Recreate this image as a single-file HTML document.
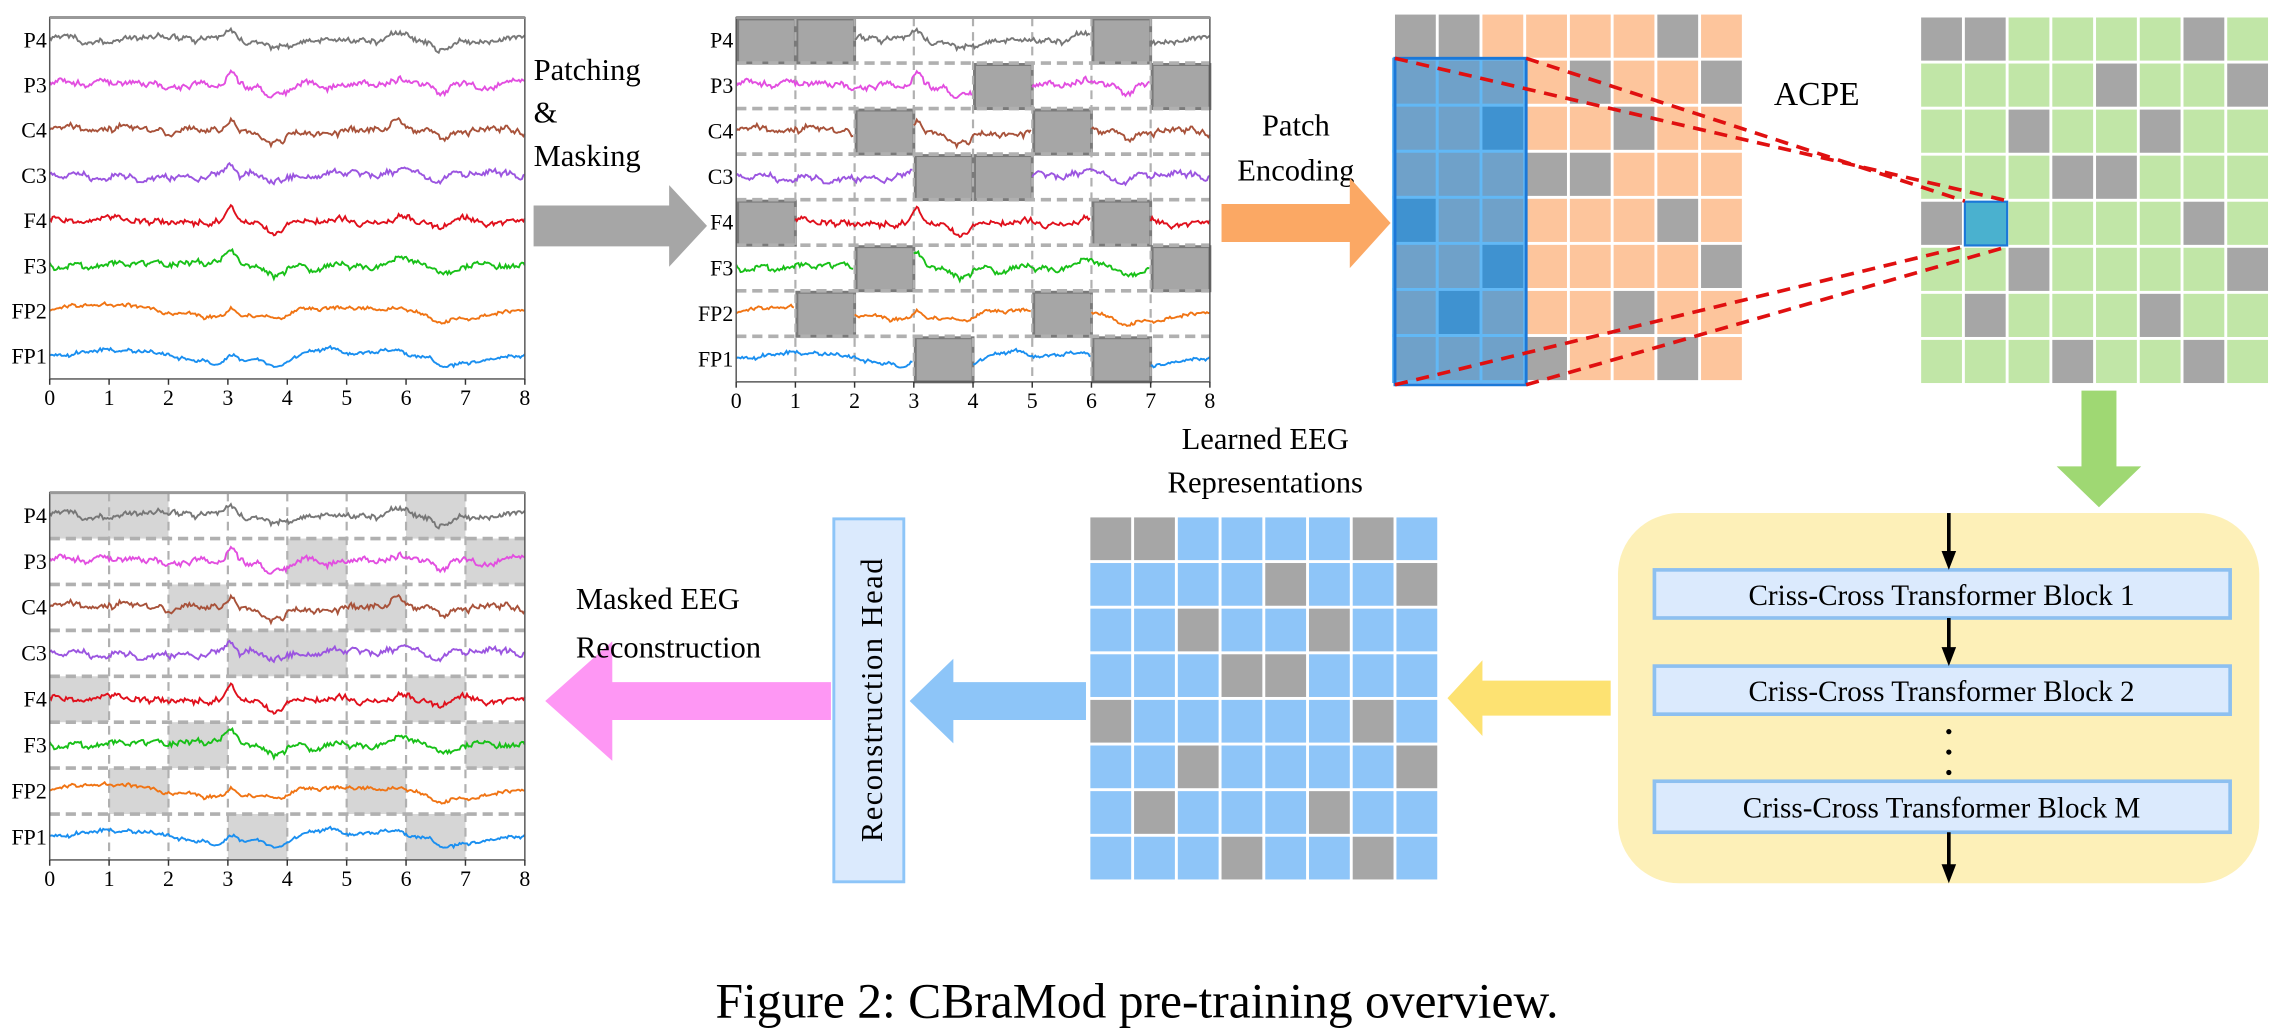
<!DOCTYPE html>
<html><head><meta charset="utf-8"><style>
html,body{margin:0;padding:0;background:#fff;}
svg{display:block;}
text{font-family:"Liberation Serif",serif;}
</style></head><body>
<svg id="s" width="2274" height="1029" viewBox="0 0 1560 706" xmlns="http://www.w3.org/2000/svg">
<rect width="1560" height="706" fill="#fff"/>
<g id="plots"></g>
<text x="366" y="55" font-size="21">Patching</text>
<text x="366" y="84" font-size="21">&amp;</text>
<text x="366" y="114" font-size="21">Masking</text>
<polygon points="366,141 459,141 459,127 485,155 459,183 459,169 366,169" fill="#a6a6a6"/>
<text x="889" y="93" font-size="21" text-anchor="middle">Patch</text>
<text x="889" y="124" font-size="21" text-anchor="middle">Encoding</text>
<polygon points="838,140 926,140 926,122 954,153 926,184 926,166 838,166" fill="#fba864"/>
<g id="grids"></g>
<text x="1217" y="72" font-size="23">ACPE</text>
<polygon points="1428,268 1452,268 1452,320 1469,320 1440,348 1411,320 1428,320" fill="#9fd873"/>
<rect x="1110" y="352" width="440" height="254" rx="42" fill="#fdf0b8"/>
<g fill="#dbeafd" stroke="#8dc0f0" stroke-width="2.5">
<rect x="1135" y="391" width="395" height="33"/>
<rect x="1135" y="457" width="395" height="33"/>
<rect x="1135" y="536" width="395" height="35"/>
</g>
<g font-size="20" text-anchor="middle">
<text x="1332" y="415">Criss-Cross Transformer Block 1</text>
<text x="1332" y="481">Criss-Cross Transformer Block 2</text>
<text x="1332" y="561">Criss-Cross Transformer Block M</text>
</g>
<g stroke="#000" stroke-width="2.5">
<line x1="1337" y1="352" x2="1337" y2="380"/>
<line x1="1337" y1="424" x2="1337" y2="446"/>
<line x1="1337" y1="571" x2="1337" y2="594"/>
</g>
<g fill="#000">
<polygon points="1332,378 1342,378 1337,391"/>
<polygon points="1332,444 1342,444 1337,457"/>
<polygon points="1332,593 1342,593 1337,606"/>
<circle cx="1337" cy="502" r="1.8"/><circle cx="1337" cy="516" r="1.8"/><circle cx="1337" cy="530" r="1.8"/>
</g>
<polygon points="1105,467 1017,467 1017,453 993,479 1017,505 1017,491 1105,491" fill="#fde272"/>
<text x="868" y="308" font-size="21" text-anchor="middle">Learned EEG</text>
<text x="868" y="338" font-size="21" text-anchor="middle">Representations</text>
<polygon points="745,468 654,468 654,452 624,481 654,510 654,494 745,494" fill="#8dc5f8"/>
<rect x="572" y="356" width="48" height="249" fill="#dbeafd" stroke="#8dc5f8" stroke-width="2"/>
<text transform="translate(605,480) rotate(-90)" font-size="21" text-anchor="middle" letter-spacing="1">Reconstruction Head</text>
<polygon points="570,468 420,468 420,440 374,481 420,522 420,494 570,494" fill="#fe97f4"/>
<text x="395" y="418" font-size="21">Masked EEG</text>
<text x="395" y="451" font-size="21">Reconstruction</text>
<text x="780" y="698" font-size="34" text-anchor="middle">Figure 2: CBraMod pre-training overview.</text>
</svg>
<script>
var NS="http://www.w3.org/2000/svg";
function el(p,t,a,tx){var e=document.createElementNS(NS,t);for(var k in a)e.setAttribute(k,a[k]);if(tx!==undefined)e.textContent=tx;p.appendChild(e);return e;}
var P=document.getElementById('plots'),G=document.getElementById('grids');
var names=["P4","P3","C4","C3","F4","F3","FP2","FP1"];
var cols=["#777777","#e24ee0","#a8523a","#9b55e0","#e0101c","#18c018","#f07414","#1a8ff0"];
var masks=[[0,1,6],[4,7],[2,5],[3,4],[0,6],[2,7],[1,5],[3,6]];
function rng(s){return function(){s=(s*16807)%2147483647;return s/2147483647;};}
var sigs=[];
for(var c=0;c<8;c++){var r=rng(1234+c*97),v=0,a=[];
 for(var i=0;i<=320;i++){v=v*0.9+(r()-0.5)*3;var t=i/40;
  var y=v*0.9+(r()-0.5)*2.5-9*Math.exp(-Math.pow((t-3.05)/0.12,2))+7*Math.exp(-Math.pow((t-3.8)/0.25,2))-5*Math.exp(-Math.pow((t-5.9)/0.3,2))+6*Math.exp(-Math.pow((t-6.6)/0.15,2));
  if(c>=6)y=y*0.6-4*Math.sin(t*1.6);
  a.push(y);}
 sigs.push(a);}
function plot(x0,y0,w,h,mode){
 var rh=h/8,cw=w/8;
 if(mode>0){for(var i=0;i<8;i++)masks[i].forEach(function(k){
   if(mode==1)el(P,'rect',{x:x0+k*cw+1,y:y0+i*rh+1,width:cw-1,height:rh-1,fill:"#a6a6a6",stroke:"#7a7a7a","stroke-width":2});
   else el(P,'rect',{x:x0+k*cw,y:y0+i*rh,width:cw,height:rh,fill:"#d6d6d6"});});
  for(var k=1;k<8;k++)el(P,'line',{x1:x0+k*cw,y1:y0,x2:x0+k*cw,y2:y0+h,stroke:"#b0b0b0","stroke-width":1.5,"stroke-dasharray":"6,4"});
  for(var i=1;i<8;i++)el(P,'line',{x1:x0,y1:y0+i*rh,x2:x0+w,y2:y0+i*rh,stroke:"#b0b0b0","stroke-width":2.5,"stroke-dasharray":"7,4"});}
 for(var i=0;i<8;i++){var cy=y0+(i+0.5)*rh,d="";
  for(var j=0;j<=320;j++){var t=j/40,xx=x0+j*w/320;
   if(mode==1&&masks[i].indexOf(Math.min(7,Math.floor(t)))>=0){d+=" ";continue;}
   d+=(d===""||d.slice(-1)==" "?"M":"L")+xx.toFixed(1)+","+(cy+sigs[i][j]).toFixed(1);}
  el(P,'path',{d:d,fill:"none",stroke:cols[i],"stroke-width":1.3});
  el(P,'text',{x:x0-2,y:cy+5,"font-size":15,"text-anchor":"end"},names[i]);}
 el(P,'rect',{x:x0,y:y0,width:w,height:h,fill:"none",stroke:"#555","stroke-width":1});
 el(P,'line',{x1:x0,y1:y0,x2:x0+w,y2:y0,stroke:"#999","stroke-width":2});
 for(var k=0;k<=8;k++){el(P,'line',{x1:x0+k*cw,y1:y0+h,x2:x0+k*cw,y2:y0+h+4,stroke:"#333"});
  el(P,'text',{x:x0+k*cw,y:y0+h+18,"font-size":15,"text-anchor":"middle"},k);}
}
plot(34,12,326,248,0);
plot(505,12,325,250,1);
plot(34,338,326,252,2);
function grid(x0,y0,cw,rh,fill,gm){
 for(var i=0;i<8;i++)for(var k=0;k<8;k++){
  el(G,'rect',{x:x0+k*cw,y:y0+i*rh,width:cw-2,height:rh-2,fill:gm[i].indexOf(k)>=0?"#a6a6a6":fill});}}
var om=[[0,1,6],[4,7],[5],[3,4],[6],[7],[5],[3,6]];
grid(957,10,30,31.6,"#fdc59c",om);
var dk=[[2,2],[4,0],[5,2],[6,1]];
for(var i=1;i<8;i++)for(var k=0;k<3;k++){
 var isd=dk.some(function(p){return p[0]==i&&p[1]==k;});
 el(G,'rect',{x:957+k*30-1,y:10+i*31.6-1,width:30,height:31.6,fill:isd?"#3f92d0":"#6fa1c9",stroke:"#62b8f5","stroke-width":2});}
el(G,'rect',{x:957,y:40,width:90,height:224,fill:"none",stroke:"#1b78d8","stroke-width":2});
grid(1318,12,30,31.6,"#c1e6a7",masks);
el(G,'rect',{x:1348,y:138.4,width:29,height:30,fill:"#4ab1cf",stroke:"#1b78d8","stroke-width":1.5});
[[957,40,1378,138],[1047,40,1348,138],[957,264,1348,169],[1047,264,1378,169]].forEach(function(l){
 el(G,'line',{x1:l[0],y1:l[1],x2:l[2],y2:l[3],stroke:"#e01010","stroke-width":2.5,"stroke-dasharray":"9,6"});});
grid(748,355,30,31.3,"#8ec5f8",masks);
</script>
</body></html>
